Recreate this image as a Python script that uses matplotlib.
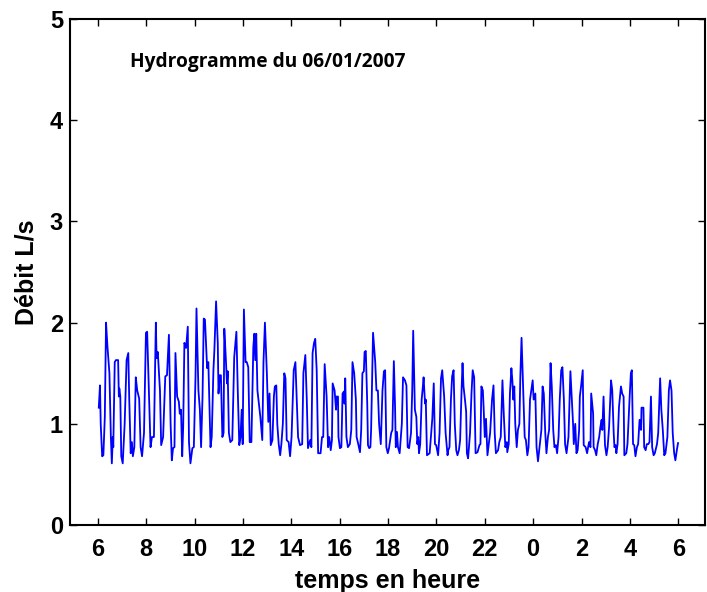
import matplotlib
matplotlib.use('Agg')
import matplotlib.pyplot as plt

# time in hours since midnight of 06/01/2007 (values past 24 belong to the next day)
hours = [
    6.04, 6.09, 6.12, 6.18, 6.23, 6.29, 6.34, 6.40, 6.48, 6.54, 6.58, 6.62, 6.64, 6.70, 6.75, 6.84,
    6.87, 6.89, 6.93, 6.97, 7.03, 7.11, 7.19, 7.26, 7.30, 7.36, 7.41, 7.45, 7.51, 7.57, 7.63, 7.71,
    7.77, 7.83, 7.91, 7.99, 8.04, 8.13, 8.18, 8.24, 8.32, 8.40, 8.43, 8.48, 8.57, 8.62, 8.70, 8.79,
    8.86, 8.94, 9.01, 9.06, 9.11, 9.17, 9.21, 9.28, 9.35, 9.39, 9.44, 9.49, 9.53, 9.58, 9.65, 9.72,
    9.77, 9.83, 9.91, 9.97, 10.04, 10.08, 10.16, 10.22, 10.27, 10.33, 10.38, 10.43, 10.52, 10.57,
    10.66, 10.71, 10.78, 10.82, 10.89, 10.96, 10.99, 11.04, 11.09, 11.15, 11.20, 11.23, 11.29, 11.34,
    11.37, 11.42, 11.48, 11.56, 11.59, 11.64, 11.73, 11.79, 11.85, 11.90, 11.95, 11.99, 12.04, 12.11,
    12.16, 12.22, 12.28, 12.35, 12.43, 12.47, 12.51, 12.55, 12.60, 12.72, 12.80, 12.85, 12.91, 12.99,
    13.05, 13.10, 13.15, 13.22, 13.28, 13.32, 13.38, 13.42, 13.48, 13.54, 13.59, 13.65, 13.71, 13.76,
    13.81, 13.89, 13.95, 14.01, 14.10, 14.17, 14.22, 14.28, 14.36, 14.45, 14.50, 14.58, 14.64, 14.69,
    14.78, 14.83, 14.88, 14.94, 14.99, 15.05, 15.11, 15.21, 15.27, 15.32, 15.38, 15.46, 15.52, 15.57,
    15.63, 15.68, 15.71, 15.79, 15.85, 15.87, 15.93, 15.95, 16.01, 16.07, 16.12, 16.18, 16.20, 16.23,
    16.28, 16.34, 16.42, 16.48, 16.53, 16.60, 16.67, 16.70, 16.75, 16.84, 16.89, 16.94, 17.00, 17.03,
    17.08, 17.14, 17.17, 17.22, 17.27, 17.30, 17.38, 17.47, 17.52, 17.58, 17.63, 17.70, 17.77, 17.83,
    17.88, 17.93, 17.99, 18.04, 18.13, 18.18, 18.24, 18.29, 18.32, 18.37, 18.41, 18.48, 18.57, 18.62,
    18.70, 18.76, 18.81, 18.87, 18.95, 19.00, 19.04, 19.11, 19.17, 19.21, 19.25, 19.28, 19.33, 19.39,
    19.44, 19.47, 19.53, 19.56, 19.61, 19.72, 19.77, 19.83, 19.89, 19.94, 19.99, 20.07, 20.13, 20.19,
    20.24, 20.32, 20.38, 20.46, 20.49, 20.54, 20.60, 20.65, 20.71, 20.76, 20.82, 20.87, 20.93, 20.98,
    21.04, 21.08, 21.12, 21.18, 21.23, 21.26, 21.31, 21.39, 21.45, 21.50, 21.56, 21.62, 21.70, 21.78,
    21.82, 21.86, 21.92, 21.95, 22.00, 22.05, 22.11, 22.16, 22.22, 22.30, 22.36, 22.41, 22.46, 22.55,
    22.60, 22.66, 22.73, 22.79, 22.85, 22.91, 22.93, 22.99, 23.04, 23.10, 23.14, 23.18, 23.22, 23.26,
    23.32, 23.37, 23.43, 23.47, 23.52, 23.59, 23.65, 23.70, 23.76, 23.81, 23.87, 23.92, 23.98, 24.02,
    24.09, 24.14, 24.20, 24.25, 24.34, 24.39, 24.44, 24.50, 24.55, 24.61, 24.66, 24.72, 24.77, 24.83,
    24.88, 24.94, 24.99, 25.05, 25.10, 25.16, 25.21, 25.27, 25.32, 25.38, 25.46, 25.54, 25.60, 25.65,
    25.68, 25.74, 25.79, 25.84, 25.90, 25.93, 25.98, 26.05, 26.09, 26.17, 26.23, 26.31, 26.37, 26.40,
    26.48, 26.50, 26.56, 26.61, 26.67, 26.73, 26.78, 26.83, 26.86, 26.91, 26.97, 27.03, 27.08, 27.14,
    27.22, 27.27, 27.33, 27.36, 27.41, 27.44, 27.49, 27.55, 27.60, 27.63, 27.68, 27.74, 27.77, 27.85,
    27.90, 27.99, 28.04, 28.08, 28.13, 28.18, 28.23, 28.29, 28.34, 28.40, 28.46, 28.48, 28.56, 28.59,
    28.65, 28.70, 28.76, 28.81, 28.87, 28.92, 28.98, 29.03, 29.12, 29.17, 29.25, 29.30, 29.36, 29.42,
    29.47, 29.55, 29.61, 29.66, 29.72, 29.77, 29.83, 29.88, 29.94, 29.99,
]

# debit in L/s
debit = [
    1.16, 1.38, 1.00, 0.68, 0.69, 1.07, 2.00, 1.76, 1.50, 0.87, 0.61, 0.87, 0.77, 1.61, 1.63, 1.63,
    1.27, 1.35, 1.27, 0.68, 0.61, 1.00, 1.63, 1.70, 1.24, 0.71, 0.82, 0.68, 0.77, 1.46, 1.33, 1.25,
    0.77, 0.68, 0.91, 1.90, 1.91, 1.17, 0.77, 0.87, 0.87, 2.00, 1.65, 1.71, 1.33, 0.79, 0.87, 1.47,
    1.48, 1.88, 1.00, 0.64, 0.76, 0.77, 1.70, 1.27, 1.22, 1.10, 1.14, 0.68, 0.97, 1.80, 1.75, 1.96,
    0.82, 0.61, 0.76, 0.77, 1.47, 2.14, 1.33, 1.14, 0.77, 1.27, 2.04, 2.03, 1.55, 1.61,
    0.77, 0.87, 1.53, 1.73, 2.21, 1.80, 1.30, 1.48, 1.48, 0.87, 0.91, 1.94, 1.66, 1.40,
    1.52, 0.91, 0.82, 0.84, 1.14, 1.66, 1.91, 1.30, 0.79, 0.87, 1.14, 0.80, 2.13, 1.61,
    1.61, 1.56, 0.82, 0.82, 1.76, 1.89, 1.63, 1.89, 1.33, 1.07, 0.84, 1.61, 2.00, 1.50,
    1.02, 1.30, 0.79, 0.84, 1.27, 1.37, 1.38, 1.00, 0.80, 0.69, 0.80, 1.00, 1.50, 1.45,
    0.84, 0.82, 0.68, 0.87, 1.53, 1.61, 1.27, 0.87, 0.79, 0.80, 1.50, 1.68, 1.24, 0.76,
    0.84, 0.77, 1.70, 1.80, 1.84, 1.53, 0.71, 0.71, 0.87, 0.87, 1.59, 1.27, 0.77, 0.87,
    0.74, 0.84, 1.40, 1.33, 1.14, 1.27, 1.27, 0.87, 0.76, 0.77, 1.30, 1.32, 1.20, 1.45,
    0.87, 0.77, 0.80, 0.94, 1.61, 1.50, 1.24, 0.87, 0.82, 0.72, 0.94, 1.50, 1.52, 1.71,
    1.72, 1.20, 0.79, 0.76, 0.77, 0.94, 1.90, 1.61, 1.33, 1.33, 1.00, 0.80, 1.33, 1.52,
    1.53, 0.77, 0.71, 0.76, 0.91, 0.94, 1.62, 1.17, 0.77, 0.92, 0.77, 0.71, 1.00, 1.46,
    1.43, 1.38, 0.77, 0.76, 0.91, 1.33, 1.92, 1.14, 1.07, 0.80, 0.87, 0.71, 0.80, 1.24,
    1.37, 1.46, 1.20, 1.24, 0.69, 0.71, 0.87, 1.05, 1.40, 0.80, 0.79, 0.69, 0.91, 1.45,
    1.53, 1.27, 0.91, 0.69, 0.74, 0.77, 1.24, 1.47, 1.53, 1.00, 0.74, 0.69, 0.74, 0.84,
    1.33, 1.60, 1.37, 1.24, 1.12, 0.71, 0.66, 0.91, 1.30, 1.53, 1.46, 0.71, 0.72, 0.79,
    0.80, 1.37, 1.33, 1.17, 0.87, 1.05, 0.69, 0.79, 0.91, 1.24, 1.38, 0.91, 0.71, 0.74,
    0.82, 0.87, 1.43, 1.07, 0.77, 0.82, 0.72, 0.80, 1.30, 1.55, 1.43, 1.24, 1.37, 1.00,
    0.77, 0.94, 1.00, 1.47, 1.85, 1.33, 0.87, 0.84, 0.69, 0.77, 1.24, 1.33, 1.43, 1.24,
    1.30, 0.77, 0.63, 0.74, 0.94, 1.37, 1.30, 0.91, 0.71, 0.87, 0.94, 1.60, 1.37, 0.94,
    0.77, 0.79, 0.71, 0.87, 1.24, 1.53, 1.56, 1.24, 0.80, 0.71, 0.87, 1.52, 1.24, 1.00,
    0.80, 1.00, 0.71, 0.74, 0.94, 1.27, 1.37, 1.53, 0.79, 0.77, 0.71, 0.82, 0.77, 1.30,
    1.10, 0.77, 0.74, 0.69, 0.80, 0.87, 0.97, 1.04, 0.94, 1.27, 0.79, 0.69, 0.77, 0.97,
    1.43, 1.33, 0.91, 0.77, 0.79, 0.71, 0.80, 1.17, 1.30, 1.37, 1.30, 1.27, 0.69, 0.71,
    0.80, 1.27, 1.50, 1.53, 0.80, 0.79, 0.68, 0.77, 0.80, 1.04, 0.94, 1.16, 1.16, 0.77,
    0.74, 0.80, 0.80, 0.82, 1.27, 0.77, 0.69, 0.71, 0.80, 0.91, 1.45, 1.14, 0.94, 0.69,
    0.71, 0.87, 1.33, 1.43, 1.33, 0.91, 0.71, 0.64, 0.74, 0.81,
]

tick_pos = [6, 8, 10, 12, 14, 16, 18, 20, 22, 24, 26, 28, 30]
tick_labels = ['6', '8', '10', '12', '14', '16', '18', '20', '22', '0', '2', '4', '6']

plt.rcParams['font.family'] = ['Liberation Sans', 'DejaVu Sans']
plt.rcParams['font.weight'] = 'bold'

fig = plt.figure(figsize=(7.07, 5.92), dpi=100)
ax = fig.add_axes([0.099, 0.113, 0.898, 0.855])

ax.plot(hours, debit, color='#0000ff', linewidth=1.3)

ax.set_xlim(4.85, 31.1)
ax.set_ylim(0, 5)
ax.set_xticks(tick_pos)
ax.set_xticklabels(tick_labels)
ax.set_yticks([0, 1, 2, 3, 4, 5])
ax.tick_params(direction='in', length=5, width=1, top=True, right=True,
               labelsize=17)
ax.tick_params(axis='x', pad=9)
ax.tick_params(axis='y', pad=5)
for s in ax.spines.values():
    s.set_linewidth(1.5)

ax.set_xlabel('temps en heure', fontsize=18, fontweight='bold', labelpad=6)
ax.set_ylabel('Débit L/s', fontsize=18, fontweight='bold', labelpad=8)
ax.text(0.094, 0.915, 'Hydrogramme du 06/01/2007', transform=ax.transAxes,
        fontsize=13.8, fontweight='bold', family=['Open Sans', 'DejaVu Sans'],
        va='center', ha='left')

fig.savefig('out.png', dpi=100)
